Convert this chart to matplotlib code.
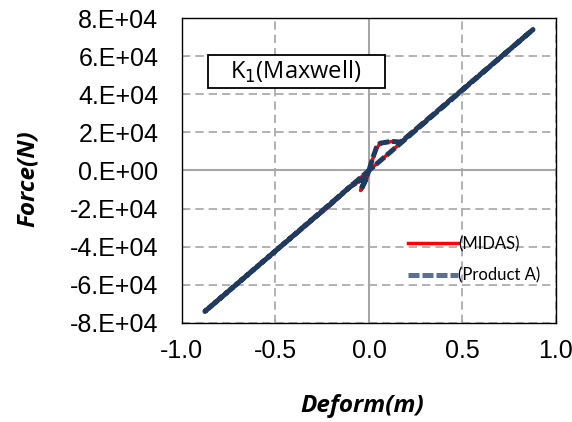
import numpy as np
import matplotlib.pyplot as plt
from matplotlib.patches import Rectangle

# hysteresis paths (deform m, force N)
midas_x = [0.0, 0.02, 0.04, 0.06, 0.12, 0.17, 0.50, 0.877, 0.40, 0.0,
           -0.02, -0.045, -0.035, -0.01, -0.10, -0.20, -0.50, -0.877, -0.40, 0.0]
midas_y = [0, 6000, 11500, 14200, 15200, 14900, 42600, 74200, 34000, 0,
           -6000, -10500, -9000, -3000, -8800, -17800, -42400, -74200, -34000, 0]

prodA_x = [0.0, 0.02, 0.04, 0.06, 0.12, 0.17, 0.50, 0.877, 0.40, 0.0,
           -0.02, -0.043, -0.035, -0.01, -0.10, -0.20, -0.50, -0.877, -0.40, 0.0]
prodA_y = [0, 6500, 12000, 14300, 15300, 14900, 42500, 74000, 33800, 0,
           -5500, -10000, -8500, -2800, -8500, -17200, -42300, -74000, -33800, 0]

xticks = [-1.0, -0.5, 0.0, 0.5, 1.0]
yticks = [-8e4, -6e4, -4e4, -2e4, 0, 2e4, 4e4, 6e4, 8e4]

fig = plt.figure(figsize=(5.72, 4.22), dpi=100)
ax = fig.add_axes([0.318, 0.235, 0.654, 0.722])

ax.grid(True, color='#A6A6A6', linestyle=(0, (5, 3)), linewidth=1.2)
ax.axhline(0, color='#A6A6A6', linewidth=1.5, zorder=1)
ax.axvline(0, color='#A6A6A6', linewidth=1.5, zorder=1)

ax.plot(midas_x, midas_y, color='#FF0000', linewidth=2.5, label='(MIDAS)', zorder=3)
ax.plot(prodA_x, prodA_y, color='#213B60', linewidth=3.6, linestyle=(0, (2.2, 0.6)),
        label='(Product A)', zorder=4)

ax.set_xlim(-1, 1)
ax.set_ylim(-8e4, 8e4)
ax.set_xticks(xticks)
ax.set_yticks(yticks)
ax.set_xticklabels(['%.1f' % v for v in xticks])
ax.set_yticklabels(['%d.E+04' % (v / 1e4) if v != 0 else '0.E+00' for v in yticks])
for lab in ax.get_xticklabels() + ax.get_yticklabels():
    lab.set_family('Liberation Sans')
    lab.set_fontsize(18)
ax.tick_params(direction='in', length=3, color='#A6A6A6')
ax.tick_params(axis='x', pad=12)
ax.tick_params(axis='y', pad=17)
for s in ax.spines.values():
    s.set_color('black')
    s.set_linewidth(1.0)

label_font = dict(fontsize=17.5, fontweight='bold', fontstyle='italic', family='Open Sans')
fig.text(362 / 572, 1 - 412 / 422, 'Deform(m)', ha='center', va='baseline', **label_font)
fig.text(28 / 572, 1 - 179 / 422, 'Force(N)', ha='center', va='center', rotation=90,
         **label_font)

# title box
ax.add_patch(Rectangle((-0.861, 43300), 0.947, 17300, facecolor='white',
                       edgecolor='black', linewidth=1.3, zorder=5))
ax.text(-0.39, 51900, r'K$_1$(Maxwell)', fontsize=17, family='Open Sans',
        ha='center', va='center', zorder=6)

leg = ax.legend(loc='lower left', bbox_to_anchor=(0.565, 0.08), frameon=False,
                prop={'family': 'Lato', 'size': 12}, handlelength=3.0, handletextpad=0.0,
                labelspacing=0.9)
leg.get_lines()[1].set_color('#5B6F8E')

fig.savefig('out.png', dpi=100)
